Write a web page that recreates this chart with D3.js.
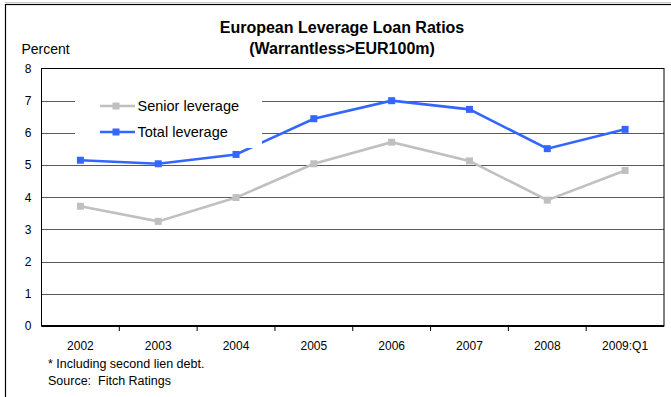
<!DOCTYPE html>
<html>
<head>
<meta charset="utf-8">
<script src="https://cdn.jsdelivr.net/npm/d3@7/dist/d3.min.js"></script>
<style>
  html, body { margin: 0; padding: 0; background: #fff; }
  svg { display: block; font-family: "Liberation Sans", Arial, sans-serif; }
</style>
</head>
<body>
<svg id="chart" width="671" height="397"></svg>
<script>
// Leverage ratios by year (multiples of EBITDA)
const categories = ["2002", "2003", "2004", "2005", "2006", "2007", "2008", "2009:Q1"];
const seniorLeverage = [3.72, 3.25, 3.99, 5.04, 5.71, 5.13, 3.91, 4.83];
const totalLeverage  = [5.15, 5.04, 5.33, 6.44, 7.00, 6.73, 5.51, 6.11];
const yTicks = [0, 1, 2, 3, 4, 5, 6, 7, 8];
const seriesNames = ["Senior leverage", "Total leverage"];
const seriesColors = ["#c0c0c0", "#3366ff"];

const svg = d3.select("#chart");

// outer frame
svg.append("line").attr("x1", 5).attr("x2", 671).attr("y1", 2.5).attr("y2", 2.5)
  .attr("stroke", "#c8c8c8").attr("stroke-width", 1);
svg.append("rect").attr("x", 5.5).attr("y", 4.5).attr("width", 700).attr("height", 420)
  .attr("fill", "none").attr("stroke", "#000").attr("stroke-width", 1.2);

const plot = { left: 41.5, right: 664, top: 68.5, bottom: 326 };

const x = d3.scaleBand().domain(categories).range([plot.left, plot.right]);
const y = d3.scaleLinear().domain([0, 8]).range([plot.bottom, plot.top]);

// title
const title = svg.append("g").attr("font-weight", "bold").attr("font-size", 16)
  .attr("text-anchor", "middle").attr("fill", "#000");
title.append("text").attr("x", 342).attr("y", 33).text("European Leverage Loan Ratios");
title.append("text").attr("x", 342).attr("y", 54).text("(Warrantless>EUR100m)");

svg.append("text").attr("x", 21.5).attr("y", 54).attr("font-size", 14).text("Percent");

// horizontal gridlines
svg.append("g").selectAll("line").data(yTicks.filter(d => d > 0 && d < 8)).join("line")
  .attr("x1", plot.left).attr("x2", plot.right)
  .attr("y1", d => Math.round(y(d)) + 0.5).attr("y2", d => Math.round(y(d)) + 0.5)
  .attr("stroke", "#5a5a5a").attr("stroke-width", 1);

// plot border
svg.append("rect").attr("x", plot.left).attr("y", plot.top)
  .attr("width", plot.right - plot.left).attr("height", plot.bottom - plot.top)
  .attr("fill", "none").attr("stroke", "#000").attr("stroke-width", 1);

// y axis labels
const yAxis = d3.axisLeft(y).tickValues(yTicks).tickSize(0).tickPadding(10);
svg.append("g").attr("transform", `translate(${plot.left},0)`).call(yAxis)
  .call(g => g.select(".domain").remove())
  .call(g => g.selectAll("text").attr("font-size", 12).attr("fill", "#000")
    .attr("font-family", "Liberation Sans, Arial, sans-serif"));

// x axis with ticks at category boundaries
const xAxisG = svg.append("g").attr("transform", `translate(0,${plot.bottom})`);
xAxisG.append("line").attr("x1", plot.left).attr("x2", plot.right)
  .attr("stroke", "#000").attr("stroke-width", 1.8);
xAxisG.selectAll("line.tick").data(categories.slice(1)).join("line").attr("class", "tick")
  .attr("x1", d => x(d)).attr("x2", d => x(d)).attr("y1", 0).attr("y2", 5)
  .attr("stroke", "#000").attr("stroke-width", 1);
xAxisG.selectAll("text").data(categories).join("text")
  .attr("x", d => x(d) + x.bandwidth() / 2).attr("y", 23.5)
  .attr("text-anchor", "middle").attr("font-size", 12).text(d => d);

// series
const series = [seniorLeverage, totalLeverage];
const line = d3.line().x((d, i) => x(categories[i]) + x.bandwidth() / 2).y(d => y(d));
series.forEach((vals, s) => {
  const g = svg.append("g");
  g.append("path").datum(vals).attr("d", line).attr("fill", "none")
    .attr("stroke", seriesColors[s]).attr("stroke-width", 2.6);
  g.selectAll("rect").data(vals).join("rect")
    .attr("x", (d, i) => x(categories[i]) + x.bandwidth() / 2 - 3.5)
    .attr("y", d => y(d) - 3.5).attr("width", 7).attr("height", 7)
    .attr("fill", seriesColors[s]);
});

// legend
const legend = svg.append("g");
legend.append("rect").attr("x", 75).attr("y", 87).attr("width", 187).attr("height", 61)
  .attr("fill", "#fff");
seriesNames.forEach((name, i) => {
  const ly = 106 + i * 26;
  legend.append("line").attr("x1", 100).attr("x2", 135).attr("y1", ly).attr("y2", ly)
    .attr("stroke", seriesColors[i]).attr("stroke-width", 2.6);
  legend.append("rect").attr("x", 112.5).attr("y", ly - 3.5).attr("width", 7).attr("height", 7)
    .attr("fill", seriesColors[i]);
  legend.append("text").attr("x", 137.5).attr("y", ly + 5).attr("font-size", 14.5).text(name);
});

// footnotes
const notes = svg.append("g").attr("font-size", 12.5);
notes.append("text").attr("x", 48).attr("y", 368).text("* Including second lien debt.");
notes.append("text").attr("x", 48).attr("y", 385).text("Source:\u00a0 Fitch Ratings");
</script>
</body>
</html>
